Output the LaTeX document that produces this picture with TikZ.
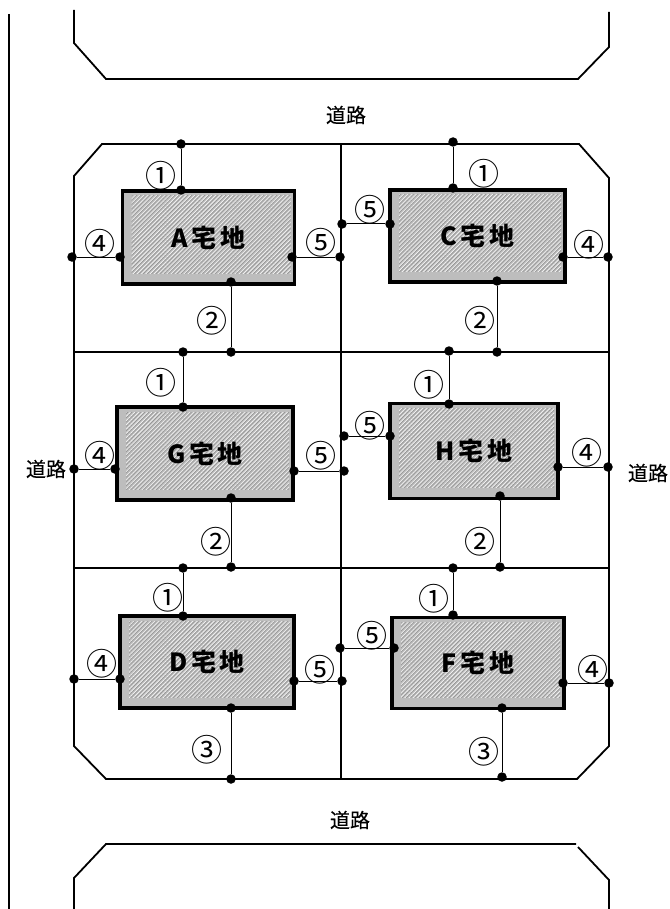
\documentclass[tikz,border=0pt]{standalone}
\usepackage{fontspec}
\usepackage{xcolor}
\usepackage{tikz}
\usetikzlibrary{positioning,patterns.meta}
\setmainfont{Noto Sans CJK JP}
\newfontfamily\roadfont[FakeBold=0.3]{Noto Sans CJK JP}
\newfontfamily\lotfont[LetterSpace=14]{Noto Sans CJK JP}
\definecolor{lotgray}{gray}{0.74}
\definecolor{hatchgray}{gray}{0.58}

\begin{document}
\begin{tikzpicture}[
  x=1pt, y=-1pt,
  lot/.style={draw, line width=3.4pt, fill=lotgray, minimum width=#1, font=\fontsize{25}{25}\selectfont\lotfont\bfseries,
    path picture={
      \fill[pattern={Lines[angle=45,distance=3pt,line width=0.6pt]}, pattern color=hatchgray]
        ([shift={(9pt,-5pt)}]path picture bounding box.north west) rectangle ([shift={(-4pt,11pt)}]path picture bounding box.south east);
      \fill[pattern={Lines[angle=45,distance=3pt,yshift=1.5pt,line width=0.6pt]}, pattern color=white!85!lotgray]
        ([shift={(9pt,-5pt)}]path picture bounding box.north west) rectangle ([shift={(-4pt,11pt)}]path picture bounding box.south east);
    }},
  joint/.style={circle, fill=black, inner sep=0pt, minimum size=9.5pt},
  link/.style={line width=1pt},
  road/.style={line width=1.8pt},
  num/.style={inner sep=0pt, yshift=-1pt, font=\fontsize{31}{31}\selectfont},
  roadname/.style={inner sep=0pt, font=\fontsize{20}{20}\selectfont\roadfont}
]
\useasboundingbox (0,0) rectangle (669,909);

% Roads
\draw[road] (9,14) -- (9,909);
\draw[road] (74,10) -- (74,43) -- (106,79) -- (578,79) -- (609,47) -- (609,12);
\draw[road] (74,909) -- (74,878) -- (106,844) -- (576,844);
\draw[road] (578,847) -- (609,880) -- (609,909);
\draw[road] (74,176) -- (102,144) -- (579,144) -- (609,178) -- (609,746) -- (577,779) -- (106,779) -- (74,746) -- cycle;
\draw[road] (341,144) -- (341,780);
\draw[road, line width=1.4pt] (74,352) -- (609,352);
\draw[road, line width=1.4pt] (74,568) -- (609,568);

% Lots
\node[lot=172pt, minimum height=93pt] (a) at (208.5,237.5) {A宅地};
\node[lot=175pt, minimum height=92pt] (c) at (477.5,236) {C宅地};
\node[lot=176pt, minimum height=93pt] (g) at (205,453.5) {G宅地};
\node[lot=168pt, minimum height=95pt] (h) at (474,451) {H宅地};
\node[lot=174pt, minimum height=92pt] (d) at (207,662) {D宅地};
\node[lot=172pt, minimum height=91pt] (f) at (478,663) {F宅地};

% Joints of lot A
\node[joint] (a1in) at (181,190) {};
\node[joint] (a1out) at (181,144) {};
\node[joint] (a2in) at (231,282) {};
\node[joint] (a2out) at (231,352) {};
\node[joint] (a4in) at (120,257) {};
\node[joint] (a4out) at (72,257) {};
\node[joint] (a5in) at (292,257) {};
\node[joint] (a5out) at (340,257) {};

% Joints of lot C
\node[joint] (c1in) at (453,188) {};
\node[joint] (c1out) at (453,142) {};
\node[joint] (c2in) at (497,281) {};
\node[joint] (c2out) at (497,352) {};
\node[joint] (c4in) at (563,257) {};
\node[joint] (c4out) at (608,257) {};
\node[joint] (c5in) at (390,224) {};
\node[joint] (c5out) at (342,224) {};

% Joints of lot G
\node[joint] (g1in) at (183,407) {};
\node[joint] (g1out) at (183,352) {};
\node[joint] (g2in) at (231,498) {};
\node[joint] (g2out) at (231,567) {};
\node[joint] (g4in) at (115,469) {};
\node[joint] (g4out) at (74,469) {};
\node[joint] (g5in) at (294,471) {};
\node[joint] (g5out) at (344,471) {};

% Joints of lot H
\node[joint] (h1in) at (449,404) {};
\node[joint] (h1out) at (449,351) {};
\node[joint] (h2in) at (500,496) {};
\node[joint] (h2out) at (500,567) {};
\node[joint] (h4in) at (558,467) {};
\node[joint] (h4out) at (608,467) {};
\node[joint] (h5in) at (390,436) {};
\node[joint] (h5out) at (344,436) {};

% Joints of lot D
\node[joint] (d1in) at (183,616) {};
\node[joint] (d1out) at (183,568) {};
\node[joint] (d3in) at (231,708) {};
\node[joint] (d3out) at (231,779) {};
\node[joint] (d4in) at (120,679) {};
\node[joint] (d4out) at (74,679) {};
\node[joint] (d5in) at (294,681) {};
\node[joint] (d5out) at (342,681) {};

% Joints of lot F
\node[joint] (f1in) at (453,615) {};
\node[joint] (f1out) at (453,568) {};
\node[joint] (f3in) at (502,708) {};
\node[joint] (f3out) at (502,777) {};
\node[joint] (f4in) at (563,683) {};
\node[joint] (f4out) at (609,683) {};
\node[joint] (f5in) at (394,648) {};
\node[joint] (f5out) at (340,648) {};

% Links
\draw[link] (a1in) -- (a1out);
\draw[link] (a2in) -- (a2out);
\draw[link] (a4in) -- (a4out);
\draw[link] (a5in) -- (a5out);
\draw[link] (c1in) -- (c1out);
\draw[link] (c2in) -- (c2out);
\draw[link] (c4in) -- (c4out);
\draw[link] (c5in) -- (c5out);
\draw[link] (g1in) -- (g1out);
\draw[link] (g2in) -- (g2out);
\draw[link] (g4in) -- (g4out);
\draw[link] (g5in) -- (g5out);
\draw[link] (h1in) -- (h1out);
\draw[link] (h2in) -- (h2out);
\draw[link] (h4in) -- (h4out);
\draw[link] (h5in) -- (h5out);
\draw[link] (d1in) -- (d1out);
\draw[link] (d3in) -- (d3out);
\draw[link] (d4in) -- (d4out);
\draw[link] (d5in) -- (d5out);
\draw[link] (f1in) -- (f1out);
\draw[link] (f3in) -- (f3out);
\draw[link] (f4in) -- (f4out);
\draw[link] (f5in) -- (f5out);

% Numbers
\node[num] (na1) at (161,175) {①};
\node[num] (na2) at (212,320) {②};
\node[num] (na4) at (100,243) {④};
\node[num] (na5) at (321,242) {⑤};
\node[num] (nc1) at (484,173) {①};
\node[num] (nc2) at (480,320) {②};
\node[num] (nc4) at (589,244) {④};
\node[num] (nc5) at (370,209) {⑤};
\node[num] (ng1) at (161,382) {①};
\node[num] (ng2) at (216,541) {②};
\node[num] (ng4) at (100,455) {④};
\node[num] (ng5) at (321,455) {⑤};
\node[num] (nh1) at (429,384) {①};
\node[num] (nh2) at (480,541) {②};
\node[num] (nh4) at (587,452) {④};
\node[num] (nh5) at (370,425) {⑤};
\node[num] (nd1) at (168,597) {①};
\node[num] (nd3) at (207,749) {③};
\node[num] (nd4) at (102,663) {④};
\node[num] (nd5) at (320,669) {⑤};
\node[num] (nf1) at (434,598) {①};
\node[num] (nf3) at (484,751) {③};
\node[num] (nf4) at (593,669) {④};
\node[num] (nf5) at (372,635) {⑤};

% Road names
\node[roadname] (roadtop) at (346,115) {道路};
\node[roadname] (roadbottom) at (350,820) {道路};
\node[roadname] (roadleft) at (46,469) {道路};
\node[roadname] (roadright) at (648,473) {道路};

\end{tikzpicture}
\end{document}
